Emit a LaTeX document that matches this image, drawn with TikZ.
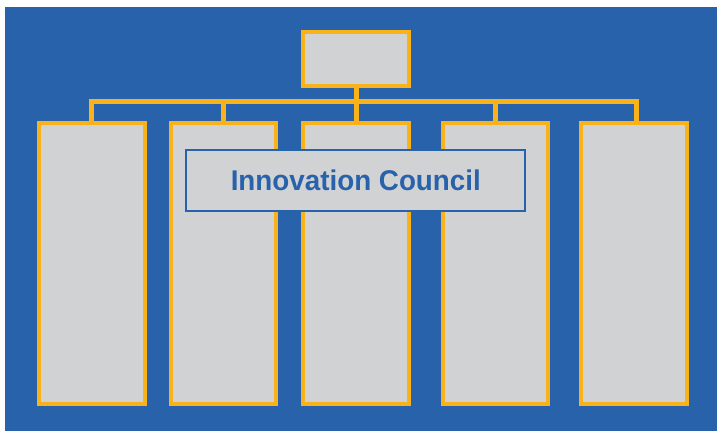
\documentclass[tikz,border=0pt]{standalone}
\usepackage{fontspec}
\setmainfont{Liberation Sans}
\definecolor{bgblue}{RGB}{39,98,171}
\definecolor{gold}{RGB}{250,178,26}
\definecolor{boxgray}{RGB}{209,210,212}
\begin{document}
\begin{tikzpicture}[x=1pt,y=-1pt,
  orgbox/.style={draw=gold,fill=boxgray,line width=2.6pt,rectangle,inner sep=0pt},
  conn/.style={draw=gold,line width=5pt},
  council/.style={draw=bgblue,fill=boxgray,line width=2pt,rectangle,inner sep=0pt,
    font=\bfseries\fontsize{28.5}{30}\selectfont,text=bgblue}]
\useasboundingbox (0,0) rectangle (717,431);
\fill[white] (0,0) rectangle (717,431);
\fill[bgblue] (5,7) rectangle (717,431);
% bar
\coordinate (barL) at (91,101);
\coordinate (barR) at (636,101);
\draw[conn] ([xshift=-2.5pt]barL) -- ([xshift=2.5pt]barR);
% boxes
\node[orgbox,minimum width=105pt,minimum height=53pt] (top) at (356,58.7) {};
\node[orgbox,minimum width=105pt,minimum height=280pt] (b1) at (92,263.5) {};
\node[orgbox,minimum width=104pt,minimum height=280pt] (b2) at (223.5,263.5) {};
\node[orgbox,minimum width=105pt,minimum height=280pt] (b3) at (356,263.5) {};
\node[orgbox,minimum width=104pt,minimum height=280pt] (b4) at (495.5,263.5) {};
\node[orgbox,minimum width=105pt,minimum height=280pt] (b5) at (634,263.5) {};
% stems
\draw[conn] (top.south) -- (b3.north);
\draw[conn] (barL) -- (barL |- b1.north);
\draw[conn] (b2.north |- barL) -- (b2.north);
\draw[conn] (b4.north |- barL) -- (b4.north);
\draw[conn] (barR) -- (barR |- b5.north);
% redraw box borders over stems
\foreach \n in {top,b1,b2,b3,b4,b5}{
  \draw[gold,line width=2.6pt] (\n.north west) rectangle (\n.south east);
}
\node[council,minimum width=339pt,minimum height=60.5pt] (ic) at (355.8,180.5)
  {\scalebox{0.975}[1]{Innovation Council}};
\end{tikzpicture}
\end{document}
